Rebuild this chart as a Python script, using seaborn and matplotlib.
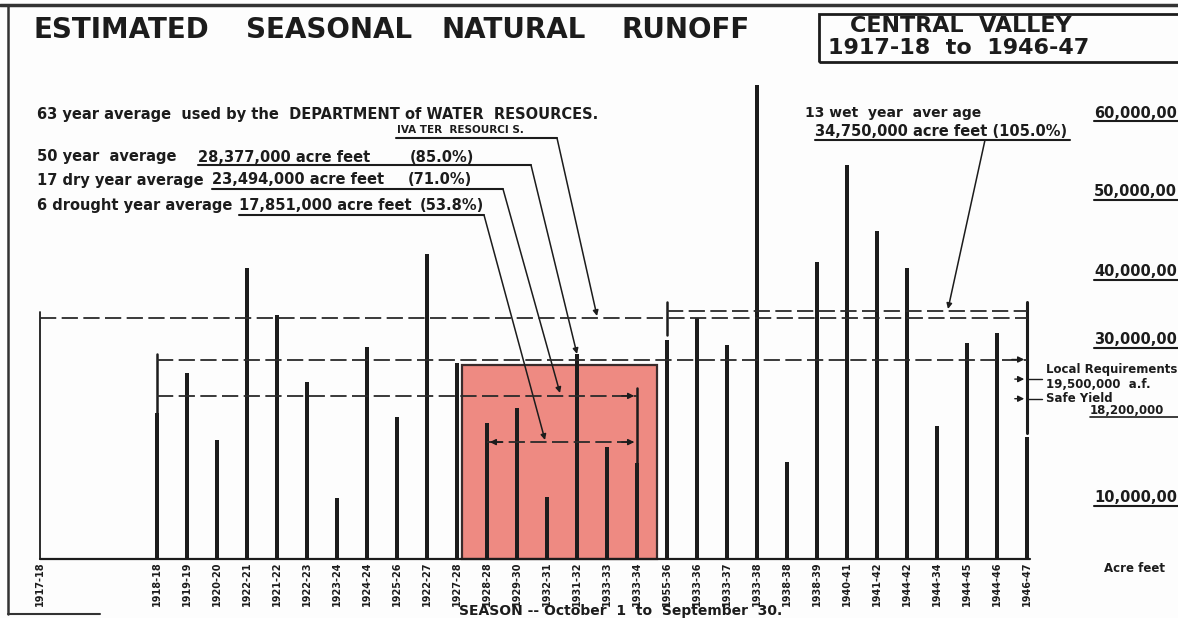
import matplotlib
matplotlib.use("Agg")
import matplotlib.pyplot as plt
import seaborn as sns
import pandas as pd
from matplotlib.patches import Rectangle
from matplotlib.lines import Line2D

# season labels as lettered on the sheet (first one has no bar)
first_season = "1917-18"
seasons = ["1918-18", "1919-19", "1920-20", "1922-21", "1921-22", "1922-23",
           "1923-24", "1924-24", "1925-26", "1922-27", "1927-28", "1928-28",
           "1929-30", "1932-31", "1931-32", "1933-33", "1933-34", "1955-36",
           "1933-36", "1933-37", "1933-38", "1938-38", "1938-39", "1940-41",
           "1941-42", "1944-42", "1944-34", "1944-45", "1944-46", "1946-47"]
# runoff, million acre feet
runoff_maf = [20.9, 26.6, 17.0, 41.6, 34.9, 25.3, 8.7, 30.3, 20.3, 43.6, 28.0,
              19.4, 21.6, 8.9, 29.3, 16.0, 13.7,
              31.3, 34.4, 30.6, 67.7, 13.9, 42.4, 56.3, 46.9, 41.6, 19.0, 30.9,
              32.3, 17.4]

# average levels drawn as dashed lines, million acre feet
avg_63yr = 34.4
avg_wet = 35.5
avg_50yr = 28.5
avg_dry = 23.3
avg_drought = 16.7
local_requirement = 25.7
safe_yield = 22.9
drought_shade_top = 27.7

# right hand scale labels as lettered
scale_labels = ["60,000,00", "50,000,00", "40,000,00", "30,000,00", "10,000,00"]

# --- sheet geometry (pixels on a 1178x618 sheet) ---
W, H = 1178, 618
BASE_PX, MAF_PX = 559, 7.0
X0_PX, SLOT_PX = 157, 30.0
INK = "#1c1c1c"


def fx(px):
    return px / W


def fy(py):
    return 1 - py / H


sns.set_style("white")
plt.rcParams["font.family"] = ["DejaVu Sans"]
plt.rcParams["font.weight"] = "bold"

fig = plt.figure(figsize=(W / 100, H / 100), dpi=100)
fig.patch.set_facecolor("#fdfdfd")
ax = fig.add_axes([0, 0, 1, 1])
ax.set_facecolor("none")

df = pd.DataFrame({"slot": range(len(seasons)), "season": seasons,
                   "runoff": runoff_maf})
first_slot = (40 - X0_PX) / SLOT_PX
last_slot = len(seasons) - 1
wet_start = seasons.index("1955-36")
dr_start = seasons.index("1928-28")
dr_end = seasons.index("1933-34")

# drought period shading
ax.add_patch(Rectangle((dr_start - 0.83, 0), dr_end - dr_start + 1.5,
                       drought_shade_top, facecolor="#ee8a82",
                       edgecolor="#3a2b2b", lw=1.6, zorder=1))

sns.barplot(data=df, x="slot", y="runoff", native_scale=True, width=0.11,
            color=INK, saturation=1, errorbar=None, linewidth=0, ax=ax,
            zorder=3)

ax.set_xlim(-X0_PX / SLOT_PX, (W - X0_PX) / SLOT_PX)
ax.set_ylim(-(H - BASE_PX) / MAF_PX, BASE_PX / MAF_PX)
ax.axis("off")

# baseline and bracket verticals
ax.plot([first_slot, last_slot + 0.1], [0, 0], color=INK, lw=1.6, zorder=4)
ax.plot([first_slot, first_slot], [0, 35.3], color=INK, lw=1.3, zorder=4)
ax.plot([0, 0], [avg_50yr + 0.8, 20.9], color=INK, lw=1.8, zorder=4)
ax.plot([dr_end, dr_end], [avg_dry + 1.1, 13.7], color=INK, lw=1.8, zorder=4)
ax.plot([wet_start, wet_start], [36.7, 32.0], color=INK, lw=1.8, zorder=4)
ax.plot([last_slot, last_slot], [36.7, 18.0], color=INK, lw=2.2, zorder=4)

dash = dict(color="#2a2a2a", lw=1.3, dashes=(9, 3), zorder=5)
ax.plot([first_slot, last_slot], [avg_63yr] * 2, **dash)
ax.plot([wet_start, last_slot], [avg_wet] * 2, **dash)
ax.plot([0, last_slot], [avg_50yr] * 2, **dash)
ax.plot([0, dr_end], [avg_dry] * 2, **dash)
ax.plot([dr_start, dr_end], [avg_drought] * 2, **dash)

head = dict(arrowstyle="-|>", color=INK, lw=1.0, mutation_scale=9)
for x_from, x_to, lvl in [(last_slot - 0.6, last_slot, avg_50yr),
                          (dr_end - 0.6, dr_end, avg_dry),
                          (dr_end - 0.6, dr_end, avg_drought),
                          (dr_start + 0.6, dr_start, avg_drought),
                          (last_slot - 0.5, last_slot, local_requirement),
                          (last_slot - 0.5, last_slot, safe_yield)]:
    ax.annotate("", xy=(x_to, lvl), xytext=(x_from, lvl), arrowprops=head,
                zorder=6)
for lvl in [local_requirement, safe_yield]:
    ax.plot([last_slot, last_slot + 0.5], [lvl, lvl], color=INK, lw=1.0)

# season labels under the baseline
xt = ax.get_xaxis_transform()
ax.text(first_slot, fy(584), first_season, transform=xt, rotation=90,
        ha="center", va="center", fontsize=7, color=INK)
for i, s in enumerate(seasons):
    ax.text(i, fy(584), s, transform=xt, rotation=90, ha="center",
            va="center", fontsize=7, color=INK)


# --- lettering on the sheet ---
def put(px, py, s, size, ha="left", **kw):
    fig.text(fx(px), fy(py), s, ha=ha, va="center", fontsize=size,
             fontweight="bold", color=INK, **kw)


def underline(a, b, py, lw=1.5):
    fig.add_artist(Line2D([fx(a), fx(b)], [fy(py), fy(py)],
                          transform=fig.transFigure, color=INK, lw=lw))


def leader(p_from, p_to):
    ax.annotate("", xy=(fx(p_to[0]), fy(p_to[1])),
                xytext=(fx(p_from[0]), fy(p_from[1])),
                xycoords="figure fraction", textcoords="figure fraction",
                arrowprops=dict(arrowstyle="-|>", color=INK, lw=1.1,
                                mutation_scale=8, shrinkA=0, shrinkB=0))


# sheet frame
fig.add_artist(Line2D([0, 1], [fy(5), fy(5)], transform=fig.transFigure,
                      color="#333", lw=2.5))
fig.add_artist(Line2D([fx(8), fx(8)], [fy(5), fy(614)],
                      transform=fig.transFigure, color="#333", lw=1.8))
fig.add_artist(Line2D([fx(8), fx(100)], [fy(614), fy(614)],
                      transform=fig.transFigure, color="#333", lw=1.5))
fig.add_artist(Rectangle((fx(819), fy(62)), fx(400), fy(14) - fy(62),
                         transform=fig.transFigure, fill=False,
                         edgecolor=INK, lw=2))

for word, px in [("ESTIMATED", 34), ("SEASONAL", 246), ("NATURAL", 442),
                 ("RUNOFF", 622)]:
    put(px, 30, word, 20)
put(850, 26, "CENTRAL  VALLEY", 16)
put(828, 48, "1917-18  to  1946-47", 16)

put(37, 114, "63 year average  used by the  DEPARTMENT of WATER  RESOURCES.", 10.5)
put(397, 130, "IVA TER  RESOURCI S.", 7.5)
rows = [(157, "50 year  average", 37, "28,377,000 acre feet", 198, "(85.0%)", 410),
        (180, "17 dry year average", 37, "23,494,000 acre feet", 212, "(71.0%)", 408),
        (206, "6 drought year average", 37, "17,851,000 acre feet", 239, "(53.8%)", 420)]
for py, a, xa, b, xb, c, xc in rows:
    put(xa, py, a, 10.5)
    put(xb, py, b, 10.5)
    put(xc, py, c, 10.5)
underline(396, 557, 138)
underline(198, 531, 165)
underline(212, 503, 189)
underline(239, 484, 215)
leader((557, 138), (597, 316))
leader((531, 165), (577, 354))
leader((503, 189), (560, 393))
leader((484, 215), (545, 440))

put(805, 113, "13 wet  year  aver age", 10)
put(815, 132, "34,750,000 acre feet (105.0%)", 10.5)
underline(815, 1070, 140)
leader((985, 140), (948, 309))

for s, py in zip(scale_labels, [113, 192, 272, 340, 498]):
    put(1094, py, s, 10.5)
    underline(1094, 1178, py + 8)
put(1046, 370, "Local Requirements", 8.5)
put(1046, 385, "19,500,000  a.f.", 8.5)
put(1046, 399, "Safe Yield", 8.5)
put(1090, 410, "18,200,000", 8.5)
underline(1090, 1178, 417, lw=1.2)
put(1104, 568, "Acre feet", 8.5)
put(621, 611, "SEASON -- October  1  to  September  30.", 10, ha="center")

fig.savefig("out.png", dpi=100, facecolor=fig.get_facecolor())
